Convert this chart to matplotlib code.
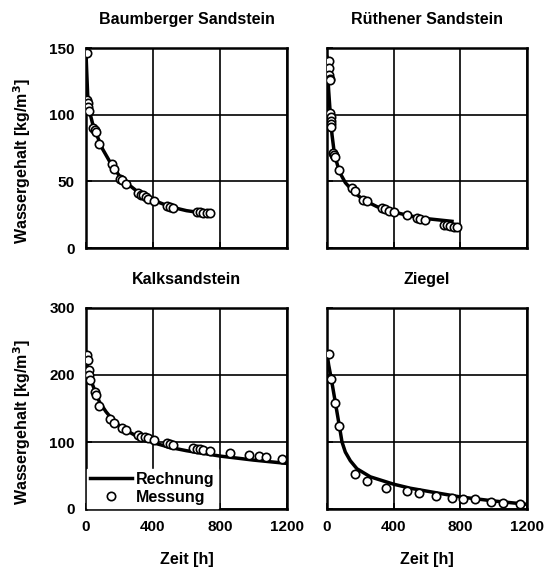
import numpy as np
import matplotlib.pyplot as plt

plt.rcParams['font.family'] = ['Liberation Sans', 'DejaVu Sans']
plt.rcParams['font.weight'] = 'bold'
plt.rcParams['mathtext.default'] = 'bf'

# Baumberger Sandstein
bs_t_mess = [3, 8, 10, 12, 15, 40, 54, 60, 78, 153, 167, 205, 213, 240, 312, 330, 342, 360, 372, 406, 481, 500, 521, 660, 680, 700, 720, 740]
bs_w_mess = [146, 111, 109, 106, 103, 90, 88.5, 87, 78, 63, 59, 52, 51, 48, 41, 40, 39.5, 38, 37, 35, 31.5, 31, 30, 27, 27, 26.5, 26.5, 26]
bs_t_calc = [0, 5, 10, 20, 40, 60, 100, 150, 200, 250, 300, 400, 500, 600, 740]
bs_w_calc = [146, 130, 115, 103, 93, 86, 74, 63, 54, 48, 43, 36, 31, 28, 25.5]

# Rüthener Sandstein
rs_t_mess = [10, 12, 14, 15, 16, 20, 21, 22, 24, 25, 37, 40, 45, 74, 150, 168, 218, 240, 330, 350, 370, 400, 480, 540, 560, 590, 700, 720, 740, 760, 780]
rs_w_mess = [140, 135, 130, 127, 126, 101, 98, 95, 93, 91, 71, 70, 68, 58.5, 45, 43, 36, 35, 30, 29, 28, 27, 25, 22.7, 22, 21, 17.5, 17, 16.5, 16, 16]
rs_t_calc = [0, 5, 10, 20, 30, 45, 75, 110, 160, 220, 300, 400, 500, 600, 750]
rs_w_calc = [143, 130, 118, 100, 85, 70, 57, 49, 42, 36, 31, 27, 24, 22, 20]

# Kalksandstein
ks_t_mess = [8, 12, 15, 20, 25, 54, 60, 78, 143, 167, 213, 240, 310, 330, 350, 372, 406, 481, 500, 521, 640, 660, 680, 700, 740, 860, 975, 1030, 1075, 1168]
ks_w_mess = [230, 222, 207, 200, 192, 175, 170, 154, 134, 128, 121, 118, 110, 108, 107, 106, 103, 98, 97, 96, 91, 90, 89, 88, 87, 83, 80, 79, 78, 74.6]
ks_t_calc = [0, 5, 10, 20, 40, 60, 80, 120, 160, 200, 250, 300, 400, 500, 600, 800, 1000, 1200]
ks_w_calc = [228, 218, 210, 200, 185, 172, 160, 145, 133, 124, 116, 109, 99, 92, 87, 79, 73, 68]

# Ziegel
zg_t_mess = [10, 26, 50, 74, 168, 240, 356, 480, 554, 654, 750, 816, 890, 984, 1056, 1156]
zg_w_mess = [231, 194.5, 158.7, 124, 52, 42, 32, 27, 24.5, 20, 17, 15.5, 14.5, 11, 9.5, 7.5]
zg_t_calc = [0, 10, 26, 50, 74, 90, 110, 140, 180, 260, 400, 500, 660, 800, 1000, 1200]
zg_w_calc = [232, 215, 194, 159, 124, 100, 85, 72, 60, 48, 37, 31, 24, 18, 12, 7]

titles = ['Baumberger Sandstein', 'Rüthener Sandstein', 'Kalksandstein', 'Ziegel']
ylab = r'Wassergehalt [kg/m$^3$]'

fig = plt.figure(figsize=(5.53, 5.72), dpi=100)
W, H = 553, 572
boxes = [(86, 48, 201, 200), (327, 48, 200, 200), (86, 308, 201, 201), (327, 308, 200, 201)]
axes = [fig.add_axes([x / W, 1 - (y + h) / H, w / W, h / H]) for x, y, w, h in boxes]

data = [(bs_t_mess, bs_w_mess, bs_t_calc, bs_w_calc),
        (rs_t_mess, rs_w_mess, rs_t_calc, rs_w_calc),
        (ks_t_mess, ks_w_mess, ks_t_calc, ks_w_calc),
        (zg_t_mess, zg_w_mess, zg_t_calc, zg_w_calc)]

for i, ax in enumerate(axes):
    tm, wm, tc, wc = data[i]
    ax.plot(tc, wc, color='black', lw=2.5, label='Rechnung', zorder=3)
    ax.plot(tm, wm, 'o', ms=6, mfc='white', mec='black', mew=1.2, label='Messung', zorder=4)
    ax.set_xlim(0, 1200)
    ax.set_xticks([0, 400, 800, 1200])
    if i < 2:
        ax.set_ylim(0, 150)
        ax.set_yticks([0, 50, 100, 150])
        ax.tick_params(labelbottom=False)
    else:
        ax.set_ylim(0, 300)
        ax.set_yticks([0, 100, 200, 300])
        ax.set_xlabel('Zeit [h]', fontsize=11.5, fontweight='bold')
        ax.xaxis.set_label_coords(0.5, -0.215)
    if i % 2 == 1:
        ax.tick_params(labelleft=False)
    else:
        ax.set_ylabel(ylab, fontsize=11.5, fontweight='bold')
        ax.yaxis.set_label_coords(-0.265, 0.435)
    ax.grid(True, color='black', lw=1.2)
    ax.tick_params(direction='in', length=4, width=1.2, labelsize=11, pad=8)
    for s in ax.spines.values():
        s.set_linewidth(1.8)
    for lab in ax.get_xticklabels() + ax.get_yticklabels():
        lab.set_fontweight('bold')
    ax.set_title(titles[i], fontsize=11.5, fontweight='bold', pad=17)

leg = axes[2].legend(loc='lower left', bbox_to_anchor=(0.0, 0.0), frameon=True,
                     fontsize=11.5, handlelength=2.6, handletextpad=0.3,
                     borderpad=0.2, borderaxespad=0.05, labelspacing=0.2, fancybox=False)
leg.get_frame().set_edgecolor('white')
leg.get_frame().set_alpha(1)
leg.set_zorder(5)

fig.savefig('out.png', dpi=100)
